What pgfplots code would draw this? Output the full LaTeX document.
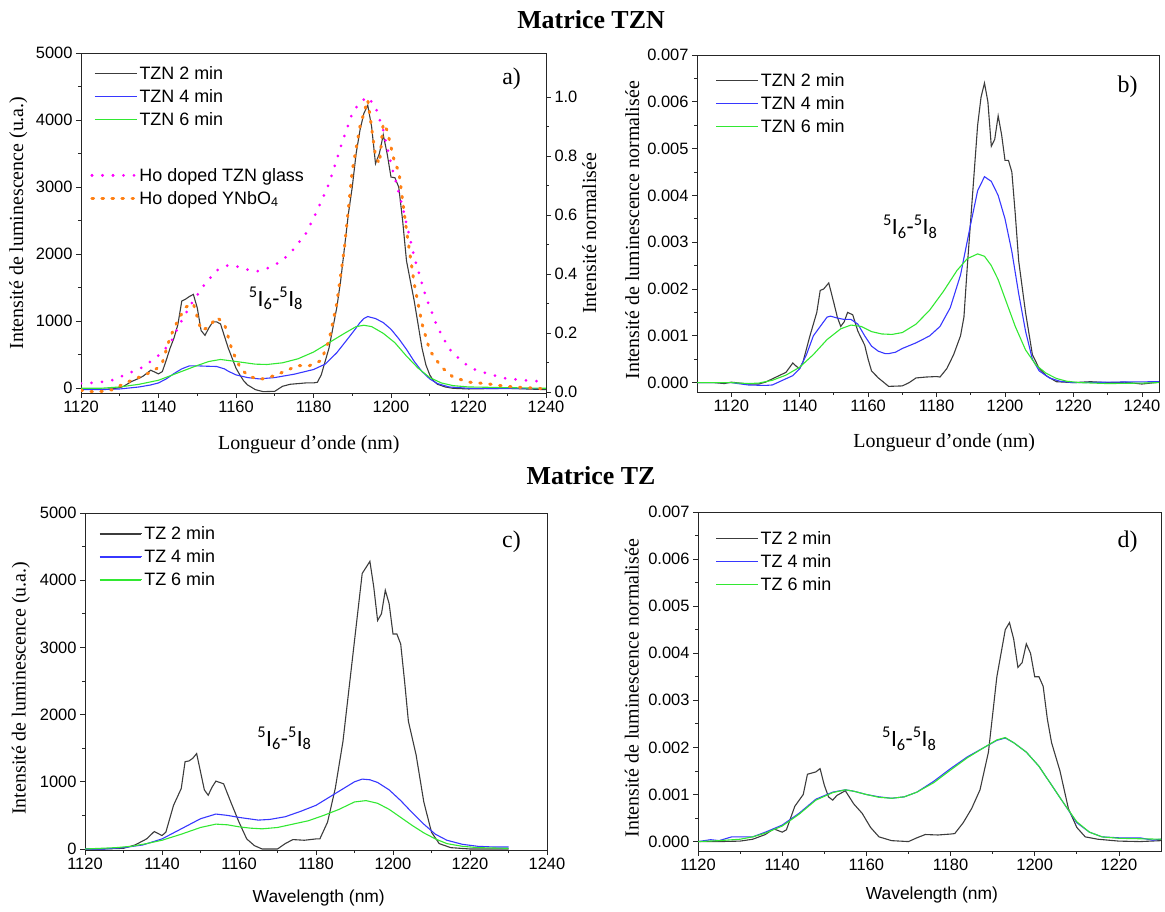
\documentclass[border=0pt]{standalone}
\usepackage{pgfplots}
\pgfplotsset{compat=1.18}
\usepackage{fontspec}
\setmainfont{Liberation Sans}
\newfontfamily\seriffont{Liberation Serif}
\newfontfamily\calfont{Carlito}
\definecolor{cblack}{RGB}{60,60,60}
\definecolor{cblue}{RGB}{55,55,255}
\definecolor{cgreen}{RGB}{50,232,50}
\definecolor{cmag}{RGB}{255,0,255}
\definecolor{corange}{RGB}{255,128,20}
\pgfplotsset{
 base/.style={
  scale only axis, anchor=south west, clip mode=individual,
  tick align=outside, xtick pos=left, ytick pos=left,
  minor x tick num=1, minor y tick num=1,
  major tick length=5bp, minor tick length=3bp,
  axis line style={line width=0.9bp, draw=black!85},
  every tick/.style={line width=0.8bp, draw=black!85},
  tick label style={font=\fontsize{16.5}{19}\selectfont},
  /pgf/number format/assume math mode=true,
  /pgf/number format/1000 sep={},
  legend style={draw=none, fill=none, anchor=north west, font=\fontsize{18}{21}\selectfont, row sep=4.5bp, inner sep=0pt},
  legend cell align=left,
  every axis plot/.append style={line width=1.1bp},
  label style={font=\fontsize{20}{24}\selectfont},
 },
 fixy3/.style={scaled y ticks=false, yticklabel style={/pgf/number format/fixed, /pgf/number format/precision=3, /pgf/number format/fixed zerofill}},
 legA/.style={legend image code/.code={\draw (0bp,0bp) -- (30bp,0bp); \path (0bp,0bp) -- (44bp,0bp);}},
 legB/.style={legend image code/.code={\draw[line width=1.5bp] (0bp,0bp) -- (41bp,0bp); \path (0bp,0bp) -- (42bp,0bp);}},
}
\newcommand{\trans}{{\calfont\fontsize{23.5}{26}\selectfont\textsuperscript{5}I\textsubscript{6}-\textsuperscript{5}I\textsubscript{8}}}
\begin{document}
\begin{tikzpicture}
% ---------------- panel a ----------------
\begin{axis}[base, legB, at={(81bp,519bp)}, width=465bp, height=340bp,
  xmin=1120, xmax=1240, ymin=-70, ymax=5000,
  xtick={1120,1140,...,1240}, ytick={0,1000,...,5000},
  xlabel={\seriffont Longueur d’onde (nm)},
  ylabel={\seriffont Intensité de luminescence (u.a.)},
  xlabel style={at={(axis description cs:0.49,-0.153)}, anchor=center},
  ylabel style={at={(axis description cs:-0.135,0.5)}, anchor=center},
  legend style={at={(axis description cs:0.028,0.968)}},
]
\addplot[color=cblack] coordinates {(1120,-10)(1124,-15)(1128,-10)(1130,10)(1131,30)(1133,100)(1135,150)(1136,180)(1138,270)(1140,215)(1141,250)(1142,420)(1143,600)(1144,750)(1145,950)(1146,1300)(1147,1330)(1148,1370)(1149,1400)(1150,1200)(1151,860)(1152,790)(1153,900)(1154,990)(1155,990)(1156,960)(1157,780)(1158,600)(1159,450)(1160,300)(1161,200)(1162,110)(1163,50)(1165,-20)(1167,-50)(1170,-45)(1172,30)(1174,60)(1176,70)(1178,80)(1180,80)(1181,90)(1182,200)(1183,400)(1184,600)(1185,900)(1186,1200)(1187,1600)(1188,2100)(1189,2600)(1190,3000)(1191,3500)(1192,3850)(1193,4100)(1194,4220)(1195,3900)(1196,3350)(1197,3500)(1198,3780)(1199,3500)(1200,3150)(1201,3140)(1202,3000)(1203,2500)(1204,1900)(1205,1600)(1206,1300)(1207,950)(1208,600)(1209,350)(1210,200)(1211,110)(1212,60)(1214,20)(1216,0)(1220,-10)(1225,-5)(1230,0)(1235,-10)(1240,-20)};
\addlegendentry{TZN 2 min}
\addplot[color=cblue] coordinates {(1120,-20)(1125,-20)(1130,-10)(1135,20)(1138,50)(1140,80)(1142,140)(1144,220)(1146,290)(1148,335)(1150,335)(1152,330)(1155,325)(1157,290)(1158,255)(1160,200)(1163,160)(1166,140)(1170,160)(1175,210)(1180,280)(1183,360)(1186,530)(1189,750)(1191,900)(1192,980)(1193,1040)(1194,1070)(1196,1040)(1198,980)(1200,880)(1202,740)(1204,580)(1206,400)(1208,250)(1210,140)(1212,70)(1215,20)(1220,0)(1230,-5)(1240,-5)};
\addlegendentry{TZN 4 min}
\addplot[color=cgreen] coordinates {(1120,0)(1125,0)(1130,20)(1135,60)(1140,120)(1145,230)(1150,340)(1153,400)(1156,430)(1160,400)(1165,360)(1168,355)(1172,380)(1176,440)(1180,540)(1184,680)(1188,820)(1191,920)(1193,940)(1195,920)(1198,820)(1201,680)(1204,480)(1207,300)(1210,160)(1213,80)(1216,40)(1220,20)(1230,10)(1240,0)};
\addlegendentry{TZN 6 min}
\node[font=\seriffont\fontsize{24}{28}\selectfont] at (rel axis cs:0.926,0.924) {a)};
\node at (axis cs:1170.3,1343) {\trans};
\end{axis}
\begin{axis}[base, legA, at={(81bp,519bp)}, width=465bp, height=340bp,
  axis x line=none, axis y line*=right, ytick pos=right,
  xmin=1120, xmax=1240, ymin=-0.003, ymax=1.149,
  ytick={0,0.2,...,1.0},
  yticklabel style={/pgf/number format/fixed, /pgf/number format/precision=1, /pgf/number format/fixed zerofill},
  ylabel={\seriffont Intensité normalisée},
  ylabel style={at={(axis description cs:1.093,0.47)}, anchor=center},
  legend style={at={(axis description cs:0.02,0.668)}},
  every axis plot/.append style={line width=3bp, line cap=round},
]
\addplot[color=cmag, dash pattern=on 0bp off 10.5bp] coordinates {(1120,0.03)(1124,0.032)(1128,0.04)(1132,0.062)(1136,0.085)(1140,0.124)(1143,0.164)(1146,0.243)(1149,0.31)(1152,0.367)(1155,0.412)(1158,0.43)(1161,0.424)(1164,0.41)(1166,0.41)(1169,0.424)(1172,0.446)(1175,0.486)(1178,0.537)(1181,0.616)(1184,0.706)(1187,0.83)(1190,0.944)(1192,0.983)(1194,1.0)(1196,0.966)(1198,0.887)(1200,0.774)(1203,0.627)(1206,0.458)(1209,0.322)(1212,0.22)(1215,0.147)(1218,0.107)(1221,0.079)(1225,0.062)(1230,0.045)(1235,0.04)(1240,0.034)};
\addlegendentry{Ho doped TZN glass}
\addplot[color=corange, dash pattern=on 1.5bp off 8.5bp] coordinates {(1120,0.006)(1124,0)(1128,0.008)(1132,0.034)(1136,0.056)(1139,0.073)(1141,0.10)(1143,0.186)(1145,0.243)(1147,0.288)(1149,0.30)(1151,0.209)(1153,0.22)(1155,0.254)(1157,0.232)(1159,0.141)(1161,0.085)(1163,0.056)(1166,0.042)(1170,0.056)(1173,0.073)(1176,0.09)(1179,0.09)(1182,0.107)(1184,0.175)(1186,0.30)(1188,0.49)(1190,0.75)(1192,0.90)(1194,0.99)(1196,0.80)(1197,0.774)(1198,0.91)(1199,0.887)(1201,0.774)(1202,0.75)(1204,0.548)(1206,0.367)(1208,0.232)(1210,0.141)(1213,0.085)(1216,0.051)(1220,0.034)(1225,0.028)(1230,0.019)(1235,0.015)(1240,0.011)};
\addlegendentry{Ho doped YNbO\textsubscript{4}}
\end{axis}
% ---------------- panel b ----------------
\begin{axis}[base, fixy3, legB, at={(697bp,520bp)}, width=462bp, height=337bp,
  xmin=1110, xmax=1245, ymin=-0.0002, ymax=0.007,
  xtick={1120,1140,...,1240}, ytick={0,0.001,...,0.007},
  xlabel={\seriffont Longueur d’onde (nm)},
  ylabel={\seriffont Intensité de luminescence normalisée},
  xlabel style={at={(axis description cs:0.535,-0.151)}, anchor=center},
  ylabel style={at={(axis description cs:-0.14,0.48)}, anchor=center},
  legend style={at={(axis description cs:0.04,0.952)}},
]
\addplot[color=cblack] coordinates {(1110,0)(1115,0)(1118,-0.00002)(1120,0.00001)(1125,-0.00003)(1128,-0.00003)(1130,0.00001)(1132,0.00008)(1134,0.00015)(1136,0.00022)(1138,0.00042)(1139,0.00035)(1140,0.0003)(1141,0.00045)(1143,0.001)(1145,0.0015)(1146,0.00197)(1147,0.002)(1148.5,0.00213)(1150,0.0017)(1151,0.0014)(1152,0.0012)(1153,0.0013)(1154,0.0015)(1155.5,0.00145)(1157,0.0011)(1159,0.0008)(1160,0.0005)(1161,0.00025)(1163,0.0001)(1166,-0.00008)(1170,-0.00007)(1172,0)(1174,0.0001)(1177,0.00012)(1180,0.00013)(1181,0.00012)(1183,0.0003)(1185,0.0006)(1187,0.001)(1188,0.0014)(1189,0.0025)(1190,0.0035)(1191,0.0045)(1192,0.0055)(1193,0.0061)(1194,0.0064)(1195,0.006)(1196,0.00505)(1197,0.0052)(1198,0.0057)(1199,0.0053)(1200,0.00475)(1201,0.00475)(1202,0.0045)(1203,0.0036)(1204,0.0026)(1206,0.0015)(1208,0.0006)(1210,0.0003)(1212,0.00015)(1215,0.00002)(1220,0)(1225,0.00002)(1230,0)(1235,0.00001)(1240,-0.00003)(1245,0.00001)};
\addlegendentry{TZN 2 min}
\addplot[color=cblue] coordinates {(1110,0)(1120,0)(1125,-0.00005)(1130,-0.00006)(1132,-0.00005)(1135,0.00005)(1138,0.00015)(1140,0.0003)(1142,0.0006)(1144,0.001)(1146,0.0012)(1148,0.0014)(1149,0.00142)(1151,0.00138)(1153,0.00135)(1155,0.00135)(1157,0.00125)(1159,0.001)(1161,0.00078)(1163,0.00067)(1165,0.00062)(1166,0.00062)(1168,0.00065)(1170,0.00073)(1174,0.00085)(1178,0.001)(1181,0.0012)(1184,0.0016)(1187,0.0023)(1190,0.0034)(1192,0.0041)(1194,0.0044)(1196,0.0043)(1198,0.004)(1200,0.0035)(1202,0.0028)(1204,0.0019)(1206,0.0011)(1208,0.0005)(1210,0.00025)(1213,0.0001)(1216,0.00003)(1220,0)(1230,0.00001)(1245,0.00002)};
\addlegendentry{TZN 4 min}
\addplot[color=cgreen] coordinates {(1110,0)(1120,0)(1125,-0.00002)(1128,-0.00001)(1132,0.00005)(1136,0.00016)(1140,0.00033)(1144,0.0006)(1148,0.00092)(1152,0.00115)(1155,0.00123)(1158,0.0012)(1161,0.00109)(1164,0.00104)(1167,0.00103)(1170,0.00107)(1174,0.00125)(1178,0.00155)(1182,0.00195)(1186,0.0024)(1189,0.00265)(1192,0.00275)(1194,0.0027)(1196,0.0025)(1198,0.0022)(1200,0.0018)(1203,0.0012)(1206,0.0007)(1209,0.00038)(1212,0.0002)(1215,0.00009)(1218,0.00003)(1222,0)(1230,-0.00002)(1240,-0.00001)(1245,0)};
\addlegendentry{TZN 6 min}
\node[font=\seriffont\fontsize{24}{28}\selectfont] at (rel axis cs:0.932,0.905) {b)};
\node at (axis cs:1172.3,0.00333) {\trans};
\end{axis}
% ---------------- panel c ----------------
\begin{axis}[base, legB, at={(85bp,62bp)}, width=462bp, height=337bp,
  xmin=1120, xmax=1240, ymin=-15, ymax=5000,
  xtick={1120,1140,...,1240}, ytick={0,1000,...,5000},
  xlabel={Wavelength (nm)},
  ylabel={\seriffont Intensité de luminescence (u.a.)},
  xlabel style={at={(axis description cs:0.506,-0.142)}, anchor=center, font=\fontsize{17.5}{20}\selectfont},
  ylabel style={at={(axis description cs:-0.139,0.48)}, anchor=center},
  legend style={at={(axis description cs:0.030,0.966)}},
]
\addplot[color=cblack] coordinates {(1120,0)(1125,0)(1130,10)(1133,60)(1136,150)(1138,260)(1140,200)(1141,250)(1142,450)(1143,650)(1145,900)(1146,1300)(1147,1310)(1148,1350)(1149,1420)(1150,1150)(1151,880)(1152,800)(1153,920)(1154,1010)(1156,970)(1158,680)(1160,400)(1162,150)(1164,50)(1166,0)(1170,0)(1172,80)(1174,140)(1177,130)(1180,150)(1181,150)(1183,400)(1185,900)(1187,1600)(1189,2600)(1191,3600)(1192,4100)(1194,4280)(1195,3900)(1196,3400)(1197,3500)(1198,3850)(1199,3650)(1200,3200)(1201,3200)(1202,3050)(1203,2500)(1204,1900)(1206,1400)(1208,700)(1210,250)(1212,80)(1215,20)(1220,0)(1225,0)(1230,0)};
\addlegendentry{TZ 2 min}
\addplot[color=cblue] coordinates {(1120,0)(1125,0)(1130,20)(1135,60)(1140,150)(1145,300)(1150,450)(1154,520)(1157,500)(1160,470)(1165,430)(1168,440)(1172,480)(1176,560)(1180,650)(1184,790)(1188,930)(1190,1000)(1192,1040)(1194,1030)(1196,990)(1199,880)(1202,720)(1205,540)(1208,370)(1211,220)(1214,130)(1218,70)(1222,40)(1226,30)(1230,30)};
\addlegendentry{TZ 4 min}
\addplot[color=cgreen] coordinates {(1120,0)(1124,10)(1128,20)(1132,40)(1136,80)(1140,130)(1145,220)(1150,320)(1154,370)(1157,360)(1160,330)(1163,310)(1166,300)(1170,320)(1174,370)(1178,420)(1182,500)(1186,590)(1190,700)(1193,720)(1196,680)(1199,590)(1202,470)(1205,350)(1208,240)(1211,150)(1214,80)(1218,40)(1222,20)(1226,15)(1230,10)};
\addlegendentry{TZ 6 min}
\node[font=\seriffont\fontsize{24}{28}\selectfont] at (rel axis cs:0.923,0.914) {c)};
\node at (axis cs:1171.8,1647) {\trans};
\end{axis}
% ---------------- panel d ----------------
\begin{axis}[base, fixy3, legB, at={(698bp,61bp)}, width=463bp, height=339bp,
  xmin=1120, xmax=1230, ymin=-0.0002, ymax=0.007,
  xtick={1120,1140,...,1220}, ytick={0,0.001,...,0.007},
  xlabel={Wavelength (nm)},
  ylabel={\seriffont Intensité de luminescence normalisée},
  xlabel style={at={(axis description cs:0.505,-0.130)}, anchor=center, font=\fontsize{17.5}{20}\selectfont},
  ylabel style={at={(axis description cs:-0.143,0.48)}, anchor=center},
  legend style={at={(axis description cs:0.037,0.95)}},
]
\addplot[color=cblack] coordinates {(1120,0)(1125,0)(1130,0.00001)(1133,0.00005)(1136,0.00015)(1138,0.00027)(1140,0.0002)(1141,0.00025)(1143,0.00075)(1145,0.001)(1146,0.00143)(1148,0.00148)(1149,0.00155)(1150,0.0012)(1151,0.00095)(1152,0.00088)(1153,0.00098)(1155,0.00108)(1157,0.0008)(1159,0.0006)(1161,0.0003)(1163,0.0001)(1166,0.00002)(1170,0)(1172,0.00008)(1174,0.00015)(1177,0.00014)(1180,0.00016)(1181,0.00017)(1183,0.0004)(1185,0.0007)(1187,0.0011)(1189,0.0019)(1190,0.0027)(1191,0.0035)(1193,0.0045)(1194,0.00465)(1195,0.0043)(1196,0.0037)(1197,0.0038)(1198,0.0042)(1199,0.004)(1200,0.0035)(1201,0.0035)(1202,0.0033)(1203,0.0026)(1204,0.0021)(1206,0.0015)(1208,0.0007)(1210,0.0003)(1212,0.0001)(1215,0.00005)(1220,0.00001)(1225,0)(1230,0.00002)};
\addlegendentry{TZ 2 min}
\addplot[color=cblue] coordinates {(1120,0)(1123,0.00004)(1125,0.00002)(1128,0.0001)(1130,0.0001)(1133,0.0001)(1136,0.0002)(1140,0.00035)(1144,0.0006)(1148,0.0009)(1152,0.00105)(1155,0.0011)(1157,0.00107)(1160,0.001)(1163,0.00095)(1166,0.00092)(1169,0.00095)(1172,0.00105)(1176,0.00128)(1180,0.00155)(1184,0.0018)(1188,0.002)(1191,0.00215)(1193,0.0022)(1195,0.0021)(1198,0.0019)(1201,0.0016)(1204,0.0012)(1207,0.0008)(1210,0.0004)(1213,0.0002)(1216,0.0001)(1220,0.00008)(1225,0.00008)(1228,0.00003)(1230,0.00005)};
\addlegendentry{TZ 4 min}
\addplot[color=cgreen] coordinates {(1120,0)(1125,0.00002)(1130,0.00005)(1133,0.0001)(1136,0.00018)(1140,0.00033)(1144,0.00058)(1148,0.00088)(1152,0.00104)(1155,0.0011)(1157,0.00107)(1160,0.001)(1163,0.00094)(1166,0.00092)(1169,0.00095)(1172,0.00105)(1176,0.00125)(1180,0.00152)(1184,0.00178)(1188,0.002)(1191,0.00216)(1193,0.00221)(1195,0.0021)(1198,0.0019)(1201,0.0016)(1204,0.0012)(1207,0.0008)(1210,0.00042)(1213,0.0002)(1216,0.0001)(1220,0.00007)(1225,0.00006)(1230,0.00005)};
\addlegendentry{TZ 6 min}
\node[font=\seriffont\fontsize{24}{28}\selectfont] at (rel axis cs:0.928,0.912) {d)};
\node at (axis cs:1170.2,0.00219) {\trans};
\end{axis}
% titles
\node[font=\seriffont\bfseries\fontsize{26}{30}\selectfont] at (591bp,892bp) {Matrice TZN};
\node[font=\seriffont\bfseries\fontsize{26}{30}\selectfont] at (591bp,436bp) {Matrice TZ};
\pgfresetboundingbox
\path[use as bounding box] (0bp,0bp) rectangle (1165bp,912bp);
\end{tikzpicture}
\end{document}
